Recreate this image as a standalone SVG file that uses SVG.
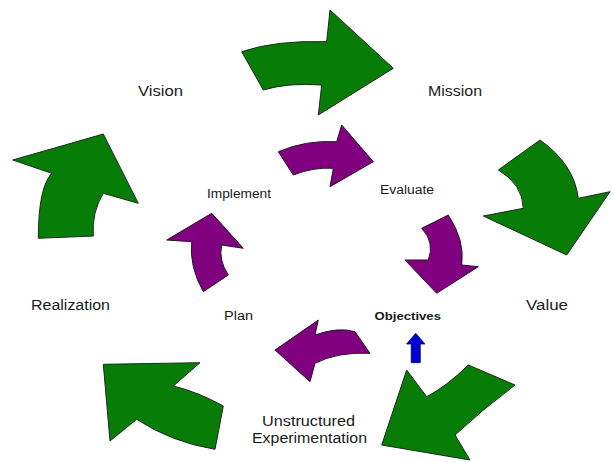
<svg xmlns="http://www.w3.org/2000/svg" width="612" height="462" viewBox="0 0 612 462">
<style>
.bg{fill:#ffffff}
.g{fill:#077d07;stroke:#1a2a1a;stroke-width:1;stroke-linejoin:round}
.p{fill:#800080;stroke:#2a102a;stroke-width:1;stroke-linejoin:round}
.b{fill:#0000d8;stroke:#101040;stroke-width:0.8;stroke-linejoin:round}
text{font-family:"Liberation Sans",Arial,sans-serif;fill:#1a1a1a}
.l{font-size:14px}
.s{font-size:12px}
.o{font-size:11px;font-weight:bold}
</style>
<rect class="bg" x="0" y="0" width="612" height="462"/>
<g id="connectors">
  <path id="arrow-vision-mission" class="g" d="M241.7,51.7 Q276,40 326.7,41.7 L330,10 L393.3,68.3 L318.3,115 L321.7,85 Q287.5,82.5 263.3,90 Z"/>
  <path id="arrow-mission-value" class="g" d="M540,140 Q574.2,164.2 578.3,198.3 L610,191.7 L566.7,255 L483.3,216 L523.3,208.3 Q522.6,184.2 498.3,170 Z"/>
  <path id="arrow-value-unstructured" class="g" d="M468.3,365 L515,385 Q482,410 455,435 L470,460 L381.7,445 L406.7,370 L426.7,396.7 Q447,386 468.3,365 Z"/>
  <path id="arrow-unstructured-realization" class="g" d="M223.3,406 L215,449.3 Q171,442 136.7,419.3 L110,441 L103.3,364.3 L200,362.7 L173.3,386 Q198,392 223.3,406 Z"/>
  <path id="arrow-realization-vision" class="g" d="M38.3,238.3 Q38.4,187.6 51.7,173.3 L12.7,160 L103.3,134 L138.3,203.3 L103.3,193.3 Q91.7,212 93.3,236 Z"/>
  <path id="arrow-implement-evaluate" class="p" d="M278.3,151.7 Q305.9,139.9 336.7,141.7 L341.7,125 L373.3,161.7 L330,186.7 L333.3,168.3 Q313.3,167 293.3,175 Z"/>
  <path id="arrow-evaluate-objectives" class="p" d="M421.7,228.3 L448.3,215 Q465,240 461.7,265 L478.3,266.7 L436.7,293.3 L405,260 L428.3,260 Q435,242.5 421.7,228.3 Z"/>
  <path id="arrow-objectives-plan" class="p" d="M275,350 L318.3,320 L315,335 Q338.4,326.7 355,331.7 L370,353.3 Q337.5,351.7 315,363.3 L310,381.7 Z"/>
  <path id="arrow-plan-implement" class="p" d="M203.3,291.7 Q189.1,266.7 191.7,241.7 L166.7,240 L211.7,213.3 L243.3,248.3 L221.7,245 Q218.4,260 228.3,275 Z"/>
  <path id="arrow-to-objectives" class="b" d="M415.7,333.3 L425,344 L420.3,344 L420.3,362.7 L411.2,362.7 L411.2,344 L406.5,344 Z"/>
</g>
<g id="vision"><text class="l" x="138" y="96" textLength="45" lengthAdjust="spacingAndGlyphs">Vision</text></g>
<g id="mission"><text class="l" x="428" y="96" textLength="54" lengthAdjust="spacingAndGlyphs">Mission</text></g>
<g id="value"><text class="l" x="526" y="310" textLength="42" lengthAdjust="spacingAndGlyphs">Value</text></g>
<g id="realization"><text class="l" x="31" y="310" textLength="79" lengthAdjust="spacingAndGlyphs">Realization</text></g>
<g id="unstructured-experimentation">
  <text class="l" x="262" y="426" textLength="93" lengthAdjust="spacingAndGlyphs">Unstructured</text>
  <text class="l" x="252" y="443" textLength="115" lengthAdjust="spacingAndGlyphs">Experimentation</text>
</g>
<g id="implement"><text class="s" x="207" y="197.5" textLength="64" lengthAdjust="spacingAndGlyphs">Implement</text></g>
<g id="evaluate"><text class="s" x="380" y="193.5" textLength="54" lengthAdjust="spacingAndGlyphs">Evaluate</text></g>
<g id="plan"><text class="s" x="224" y="320" textLength="29" lengthAdjust="spacingAndGlyphs">Plan</text></g>
<g id="objectives"><text class="o" x="374.5" y="320" textLength="66.5" lengthAdjust="spacingAndGlyphs">Objectives</text></g>
</svg>
